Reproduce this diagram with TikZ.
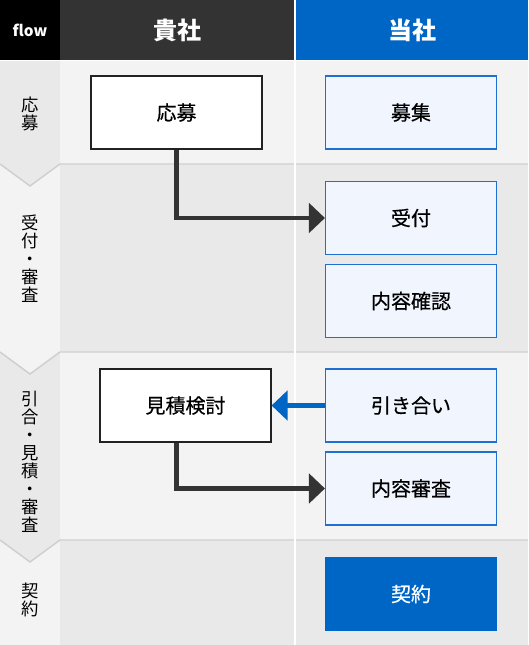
\documentclass[tikz,border=0pt]{standalone}
\usepackage{fontspec}
\setmainfont{Noto Sans CJK JP}
\newfontfamily\boxfont{Noto Sans CJK JP}[FakeBold=0.5]
\usetikzlibrary{arrows.meta}

\definecolor{flowblack}{HTML}{000000}
\definecolor{headgray}{HTML}{333333}
\definecolor{headblue}{HTML}{0066C6}
\definecolor{rowlight}{HTML}{F3F3F3}
\definecolor{rowdark}{HTML}{E9E9E9}
\definecolor{rowline}{HTML}{CFCFCF}
\definecolor{boxblack}{HTML}{222222}
\definecolor{boxblue}{HTML}{1F6FD0}
\definecolor{boxpale}{HTML}{F0F5FE}
\definecolor{arrowgray}{HTML}{333333}

\tikzset{every picture/.style={line width=0.75pt}}
\tikzset{
  flowtext/.style={text=white, inner sep=0, font=\bfseries\fontsize{11.5}{12}\selectfont},
  headtext/.style={text=white, inner sep=0, font=\bfseries\fontsize{18}{20}\selectfont},
  steplabel/.style={align=center, inner sep=0, font=\fontsize{13}{13.5}\selectfont},
  clientbox/.style={draw=boxblack, fill=white, line width=1.1pt, minimum width=128pt, minimum height=54.5pt, inner sep=0, font=\boxfont\fontsize{15}{16}\selectfont},
  ourbox/.style={clientbox, draw=boxblue, fill=boxpale},
  signbox/.style={clientbox, draw=headblue, fill=headblue, text=white},
  rowedge/.style={draw=rowline, line width=1.1pt},
  flowarrow/.style={draw=arrowgray, line width=3.4pt, -{Triangle[length=12pt,width=22pt]}},
  backarrow/.style={flowarrow, draw=headblue}
}

\begin{document}
\begin{tikzpicture}[x=0.75pt,y=0.75pt,yscale=-1,xscale=1]
			\useasboundingbox (0,0) rectangle (528,645);
			%Shape: Rectangle
			\fill [white] (0,0) rectangle (528,645);
			
			%Shape: Rectangle (header)
			\fill [flowblack] (0,0) rectangle (60,60);
			%Shape: Rectangle
			\fill [headgray] (60,0) rectangle (294,60);
			%Shape: Rectangle
			\fill [headblue] (296,0) rectangle (528,60);
			
			%Shape: Rectangle (rows)
			\fill [rowdark] (0,61) rectangle (60,164);
			\fill [rowlight] (60,61) rectangle (528,164);
			\fill [rowlight] (0,164) rectangle (60,352);
			\fill [rowdark] (60,164) rectangle (528,352);
			\fill [rowdark] (0,352) rectangle (60,540);
			\fill [rowlight] (60,352) rectangle (528,540);
			\fill [rowlight] (0,540) rectangle (60,645);
			\fill [rowdark] (60,540) rectangle (528,645);
			
			%Shape: Chevron
			\fill [rowdark] (0,164) -- (30,186) -- (60,164) -- cycle;
			\draw [rowedge] (0,164) -- (30,186) -- (60,164) -- (528,164) ;
			%Shape: Chevron
			\fill [rowlight] (0,352) -- (30,374) -- (60,352) -- cycle;
			\draw [rowedge] (0,352) -- (30,374) -- (60,352) -- (528,352) ;
			%Shape: Chevron
			\fill [rowdark] (0,540) -- (30,562) -- (60,540) -- cycle;
			\draw [rowedge] (0,540) -- (30,562) -- (60,540) -- (528,540) ;
			
			%Straight Lines (column divider)
			\draw [white, line width=1.5pt] (295,0) -- (295,645) ;
			
			% Text Node
			\node [flowtext] (flow) at (30,30) {flow};
			% Text Node
			\node [headtext] (kisha) at (177,30) {貴社};
			% Text Node
			\node [headtext] (tosha) at (412,30) {当社};
			
			% Text Node
			\node [steplabel] (lbloubo) at (30,113.5) {応\\募};
			% Text Node
			\node [steplabel] (lbluketsuke) at (30,259) {受\\付\\・\\審\\査};
			% Text Node
			\node [steplabel] (lblhikiai) at (30,461.5) {引\\合\\・\\見\\積\\・\\審\\査};
			% Text Node
			\node [steplabel] (lblkeiyaku) at (30,600) {契\\約};
			
			%Shape: Rectangle
			\node [clientbox] (oubo) at (176.5,112.5) {応募};
			%Shape: Rectangle
			\node [ourbox] (boshu) at (411,112.5) {募集};
			%Shape: Rectangle
			\node [ourbox] (uketsuke) at (411,218) {受付};
			%Shape: Rectangle
			\node [ourbox] (kakunin) at (411,301) {内容確認};
			%Shape: Rectangle
			\node [clientbox] (kentou) at (185.5,405.5) {見積検討};
			%Shape: Rectangle
			\node [ourbox] (hikiai) at (411,405.5) {引き合い};
			%Shape: Rectangle
			\node [ourbox] (shinsa) at (411,488.5) {内容審査};
			%Shape: Rectangle
			\node [signbox] (keiyaku) at (411,594) {契約};
			
			%Straight Lines
			\draw [flowarrow] (oubo.south) |- (uketsuke.west) ;
			%Straight Lines
			\draw [backarrow] (hikiai.west) -- (kentou.east) ;
			%Straight Lines
			\draw [flowarrow] (kentou.south -| oubo.south) |- (shinsa.west) ;
		\end{tikzpicture}
\end{document}
